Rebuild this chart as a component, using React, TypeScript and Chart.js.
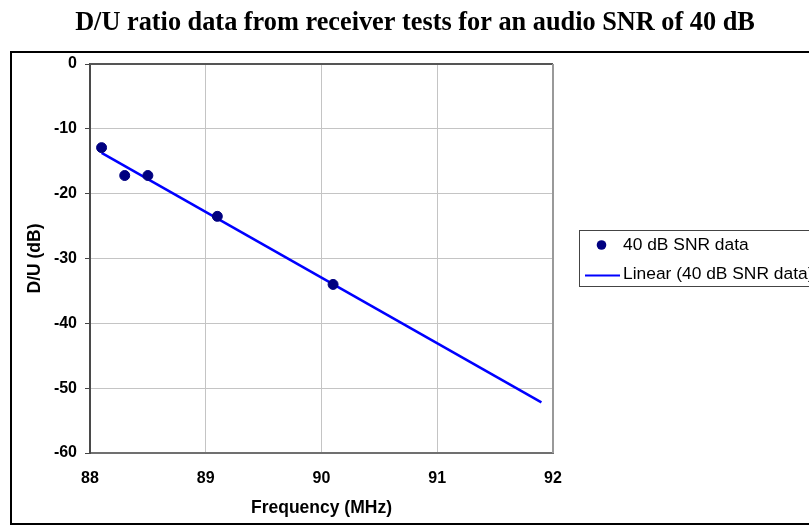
import React, { useEffect, useRef } from "react";
import { Chart, registerables } from "chart.js";

Chart.register(...registerables);

const chartTitle = "D/U ratio data from receiver tests for an audio SNR of 40 dB";
const xAxisTitle = "Frequency (MHz)";
const yAxisTitle = "D/U (dB)";
const seriesLabel = "40 dB SNR data";
const trendLabel = "Linear (40 dB SNR data)";

const freqMHz = [88.1, 88.3, 88.5, 89.1, 90.1];
const duRatio = [-12.9, -17.2, -17.2, -23.5, -34.0];
const trendFreq = [88.1, 91.9];
const trendDU = [-13.7, -52.2];
const xTicks = [88, 89, 90, 91, 92];
const yTicks = [0, -10, -20, -30, -40, -50, -60];

const SANS = "'Liberation Sans', Arial, Helvetica, sans-serif";
const SERIF = "'Liberation Serif', 'Times New Roman', serif";

const decorPlugin = {
  id: "decor",
  afterDraw(chart: any) {
    const ctx = chart.ctx as CanvasRenderingContext2D;
    const a = chart.chartArea;
    ctx.save();
    // plot area border (top/right)
    ctx.lineWidth = 2;
    ctx.strokeStyle = "#555555";
    ctx.beginPath();
    ctx.moveTo(a.left, a.top);
    ctx.lineTo(a.right, a.top);
    ctx.stroke();
    ctx.strokeStyle = "#999999";
    ctx.beginPath();
    ctx.moveTo(a.right, a.top);
    ctx.lineTo(a.right, a.bottom);
    ctx.stroke();
    // outer frame
    ctx.strokeStyle = "#000000";
    ctx.lineWidth = 2;
    ctx.strokeRect(11, 52, 820, 472);
    // title
    ctx.fillStyle = "#000";
    ctx.font = `bold 26.3px ${SERIF}`;
    ctx.textAlign = "center";
    ctx.textBaseline = "alphabetic";
    ctx.fillText(chartTitle, 415, 29.5);
    // legend
    const ds = chart.data.datasets;
    ctx.strokeStyle = "#444";
    ctx.lineWidth = 1;
    ctx.strokeRect(579.5, 230.5, 300, 56);
    ctx.font = `17.4px ${SANS}`;
    ctx.textAlign = "left";
    ctx.textBaseline = "middle";
    ctx.fillStyle = ds[0].backgroundColor;
    ctx.beginPath();
    ctx.arc(601.5, 245, 4.8, 0, Math.PI * 2);
    ctx.fill();
    ctx.fillStyle = "#000";
    ctx.fillText(ds[0].label, 623, 245);
    ctx.strokeStyle = ds[1].borderColor;
    ctx.lineWidth = 2;
    ctx.beginPath();
    ctx.moveTo(585, 275.5);
    ctx.lineTo(620, 275.5);
    ctx.stroke();
    ctx.fillStyle = "#000";
    ctx.fillText(ds[1].label, 623, 274);
    ctx.restore();
  },
};

export default function App() {
  const ref = useRef<HTMLCanvasElement | null>(null);
  useEffect(() => {
    if (!ref.current) return;
    const chart = new Chart(ref.current, {
      type: "scatter",
      data: {
        datasets: [
          {
            label: seriesLabel,
            data: freqMHz.map((x, i) => ({ x, y: duRatio[i] })),
            backgroundColor: "#000080",
            borderColor: "#000080",
            pointRadius: 5,
            pointHoverRadius: 5,
            showLine: false,
            order: 1,
          },
          {
            label: trendLabel,
            data: trendFreq.map((x, i) => ({ x, y: trendDU[i] })),
            borderColor: "#0000FF",
            backgroundColor: "#0000FF",
            borderWidth: 2.5,
            pointRadius: 0,
            showLine: true,
            order: 2,
          },
        ],
      },
      options: {
        responsive: false,
        animation: false,
        devicePixelRatio: 1,
        layout: { padding: { left: 0, top: 64, right: 256, bottom: 0 } },
        plugins: {
          legend: { display: false },
          title: { display: false },
          tooltip: { enabled: false },
        },
        scales: {
          x: {
            type: "linear",
            min: 88,
            max: 92,
            afterBuildTicks: (s: any) => {
              s.ticks = xTicks.map((v) => ({ value: v }));
            },
            afterFit: (s: any) => {
              s.height = 78;
            },
            grid: { color: "#c4c4c4", lineWidth: 1, drawTicks: false },
            border: { color: "#707070", width: 2 },
            ticks: {
              padding: 16.4,
              color: "#000",
              font: { family: SANS, size: 16, weight: "bold" },
            },
            title: {
              display: true,
              text: xAxisTitle,
              color: "#000",
              font: { family: SANS, size: 17.5, weight: "bold" },
              padding: { top: 0, bottom: 12.5 },
            },
          },
          y: {
            type: "linear",
            min: -60,
            max: 0,
            afterBuildTicks: (s: any) => {
              s.ticks = yTicks.map((v) => ({ value: v }));
            },
            afterFit: (s: any) => {
              s.width = 90;
            },
            grid: { color: "#c4c4c4", lineWidth: 1, drawTicks: true, tickLength: 5, tickColor: "#444" },
            border: { color: "#4a4a4a", width: 2 },
            ticks: {
              padding: 8,
              color: "#000",
              font: { family: SANS, size: 16, weight: "bold" },
            },
            title: {
              display: true,
              text: yAxisTitle,
              color: "#000",
              font: { family: SANS, size: 17.5, weight: "bold" },
              padding: { top: 24.5, bottom: 0 },
            },
          },
        },
      },
      plugins: [decorPlugin],
    });
    return () => chart.destroy();
  }, []);
  return (
    <div style={{ position: "absolute", left: 0, top: 0, width: 809, height: 531, background: "#fff" }}>
      <canvas ref={ref} width={809} height={531} style={{ display: "block" }} />
    </div>
  );
}
